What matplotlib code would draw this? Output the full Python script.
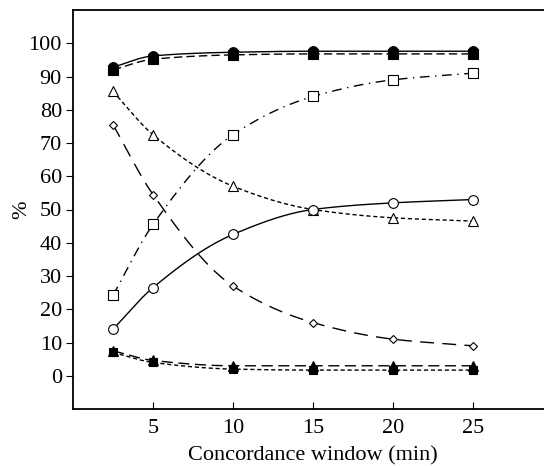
import numpy as np
import matplotlib
matplotlib.use("Agg")
import matplotlib.pyplot as plt

plt.rcParams["font.family"] = ["Liberation Serif", "DejaVu Serif"]

# concordance window (min)
window = [2.5, 5, 10, 15, 20, 25]

# series (%)
filled_circle = [92.8, 96.2, 97.3, 97.6, 97.6, 97.6]
filled_square = [92.0, 95.2, 96.5, 96.8, 96.8, 96.8]
open_square = [24.2, 45.5, 72.5, 84.0, 89.0, 91.0]
open_triangle = [85.5, 72.5, 57.0, 50.0, 47.5, 46.5]
open_diamond = [75.5, 54.5, 27.0, 16.0, 11.0, 9.0]
open_circle = [14.0, 26.5, 42.5, 50.0, 52.0, 53.0]
low_triangle = [7.5, 4.6, 3.0, 3.0, 3.0, 3.0]
low_square = [7.0, 4.0, 2.0, 1.7, 1.7, 1.7]

yticks = [0, 10, 20, 30, 40, 50, 60, 70, 80, 90, 100]
xticks = [5, 10, 15, 20, 25]


def pchip(x, y, xs):
    # monotone cubic curve through the measured points (drawing only)
    x = np.asarray(x, float); y = np.asarray(y, float)
    h = np.diff(x); d = np.diff(y) / h
    m = np.zeros_like(y)
    for k in range(1, len(x) - 1):
        if d[k - 1] * d[k] > 0:
            w1 = 2 * h[k] + h[k - 1]; w2 = h[k] + 2 * h[k - 1]
            m[k] = (w1 + w2) / (w1 / d[k - 1] + w2 / d[k])
    m[0] = d[0]; m[-1] = d[-1]
    idx = np.clip(np.searchsorted(x, xs) - 1, 0, len(x) - 2)
    t = (xs - x[idx]) / h[idx]
    h00 = 2 * t**3 - 3 * t**2 + 1; h10 = t**3 - 2 * t**2 + t
    h01 = -2 * t**3 + 3 * t**2; h11 = t**3 - t**2
    return h00 * y[idx] + h10 * h[idx] * m[idx] + h01 * y[idx + 1] + h11 * h[idx] * m[idx + 1]


fig = plt.figure(figsize=(5.44, 4.66), dpi=100)
ax = fig.add_axes([73 / 544, 57 / 466, 480 / 544, 399 / 466])

xs = np.linspace(window[0], window[-1], 300)

series = [
    (filled_square, "s", "k", (0, (6, 3)), 6.5),
    (filled_circle, "o", "k", "-", 7),
    (open_square, "s", "w", (0, (7, 4, 1, 4)), 6.5),
    (open_triangle, "^", "w", (0, (3, 2)), 6.5),
    (open_diamond, "D", "w", (0, (10, 6)), 4.5),
    (open_circle, "o", "w", "-", 7),
    (low_square, "s", "k", (0, (3, 2)), 5.5),
    (low_triangle, "^", "k", (0, (8, 4)), 6.5),
]

for vals, mk, fc, ls, ms in series:
    ax.plot(xs, pchip(window, vals, xs), color="k", lw=1.0, ls=ls, zorder=2)
    ax.plot(window, vals, ls="none", marker=mk, markersize=ms,
            markerfacecolor=fc, markeredgecolor="k", markeredgewidth=0.8, zorder=3)

ax.set_xlim(0, 30)
ax.set_ylim(-10, 110)
ax.set_xticks(xticks)
ax.set_yticks(yticks)
ax.tick_params(axis="x", direction="in", length=5, width=0.8, labelsize=16, pad=7)
ax.tick_params(axis="y", direction="out", length=5, width=0.8, labelsize=16, pad=3)
for sp in ax.spines.values():
    sp.set_linewidth(1.3)
ax.set_xlabel("Concordance window (min)", fontsize=16, labelpad=6)
ax.set_ylabel("%", fontsize=16, labelpad=-2)

fig.savefig("out.png", dpi=100)
